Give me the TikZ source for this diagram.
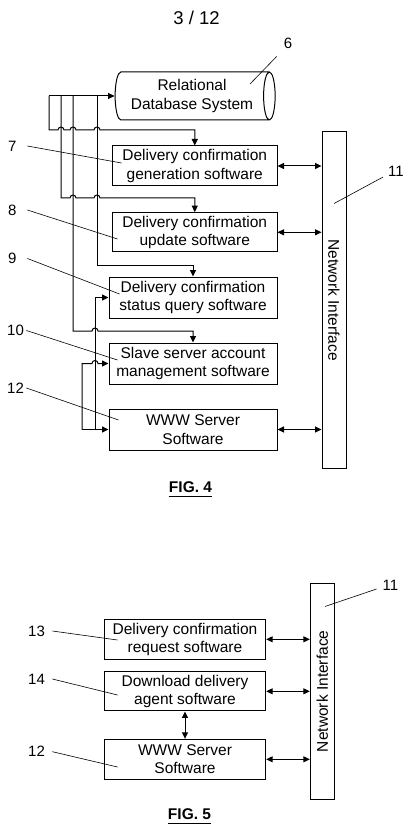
\documentclass[tikz,border=0pt]{standalone}
\usepackage{fontspec}
\setmainfont{Liberation Sans}
\usepackage{tikz}
\usetikzlibrary{shapes.geometric,arrows.meta,positioning,calc}

\newcommand{\boxfont}{\fontsize{15.5}{18.5}\selectfont}
\newcommand{\numfont}{\fontsize{15}{18}\selectfont}
\newcommand{\hopover}{arc[start angle=180,end angle=0,radius=3pt]}

\tikzset{
  swbox/.style={draw, line width=1pt, rectangle, inner sep=0pt, align=center, font=\boxfont},
  netif/.style={draw, line width=1pt, rectangle, inner sep=0pt, minimum width=24pt},
  num/.style={font=\numfont, inner sep=0pt},
  lnum/.style={num, anchor=west, text width=#1},
  lnum/.default=19pt,
  lead/.style={line width=0.6pt},
  bus/.style={line width=1pt},
  arr/.style={bus, -{Triangle[length=6.5pt,width=6pt]}},
  darr/.style={bus, {Triangle[length=6.5pt,width=6pt]}-{Triangle[length=6.5pt,width=6pt]}},
}

\begin{document}
\begin{tikzpicture}[x=1pt, y=-1pt]
    \useasboundingbox (0,0) rectangle (411,826);

    \node[font=\fontsize{18.5}{22}\selectfont] (pg) at (196.5,18) {3 / 12};

    % FIG. 4
    \node[cylinder, draw, line width=1pt, aspect=0.35, inner sep=0pt,
          minimum width=48pt, minimum height=160pt, align=center, font=\boxfont]
          (db) at (192,96) {Relational\\Database System};

    \node[swbox, minimum width=164.5pt, minimum height=40pt] (gen) at (194.75,166) {Delivery confirmation\\generation software};
    \node[swbox, minimum width=164.5pt, minimum height=39.3pt] (upd) at (194.75,232.3) {Delivery confirmation\\update software};
    \node[swbox, minimum width=168pt, minimum height=41pt] (qry) at (193,297.5) {Delivery confirmation\\status query software};
    \node[swbox, minimum width=168pt, minimum height=41pt] (acct) at (193,363.5) {Slave server account\\management software};
    \node[swbox, minimum width=168pt, minimum height=41pt] (www) at (193,429.5) {WWW Server\\Software};

    \node[netif, minimum height=336pt] (ni4) at (334,300) {};
    \node[font=\boxfont, rotate=-90] (ni4t) at (ni4) {Network Interface};

    \coordinate (t1) at (49,96);
    \coordinate (t2) at (61,96);
    \coordinate (t3) at (73,96);
    \coordinate (t4) at (97,96);
    \coordinate (w1) at (82,429.5);
    \coordinate (w2) at (95,429.5);

    \draw[arr] (t1) -- (db.west);
    \draw[arr] (t1) -- (49,130) -- (58,130) \hopover -- (70,130) \hopover -- (94,130) \hopover -| (gen.north);
    \draw[arr] (t2) -- (61,198) -- (70,198) \hopover -- (94,198) \hopover -| (upd.north);
    \draw[arr] (t4) -- (97,265) -| (qry.north);
    \draw[arr] (t3) -- (73,331) -- (92,331) \hopover -| (acct.north);

    \draw[arr] (w1) -- (www.west);
    \draw[arr] (w2) |- (qry.west);
    \draw[arr] (w1) -- (82,363.5) -- (92,363.5) \hopover -- (acct.west);

    \draw[darr] (gen.east) -- (gen.east -| ni4.west);
    \draw[darr] (upd.east) -- (upd.east -| ni4.west);
    \draw[darr] (www.east) -- (www.east -| ni4.west);

    \node[num] (n6) at (288,43.3) {6};
    \node[num] (n11) at (396,171.7) {11};
    \node[lnum] (l7) at (8,146) {7};
    \node[lnum] (l8) at (8,210) {8};
    \node[lnum] (l9) at (8,258.5) {9};
    \node[lnum] (l10) at (7,330.5) {10};
    \node[lnum] (l12) at (7,388) {12};

    \draw[lead] ([shift={(-7,7.7)}]n6.south west) -- ([shift={(58,-12)}]db.center);
    \draw[lead] ([shift={(-5,0)}]n11.south west) -- ([shift={(0,72)}]ni4.north);
    \draw[lead] (l7.east) -- ([shift={(9.5,-3)}]gen.west);
    \draw[lead] (l8.east) -- ([shift={(5.5,6.7)}]upd.west);
    \draw[lead] (l9.east) -- ([shift={(11,-3.5)}]qry.west);
    \draw[lead] (l10.east) -- ([shift={(9,-3.5)}]acct.west);
    \draw[lead] (l12.east) -- ([shift={(10,-9.5)}]www.west);

    \node[font=\fontsize{15.5}{18}\selectfont\bfseries, inner sep=0pt] (f4) at (190.5,487) {FIG. 4};
    \draw[line width=1.6pt] ([yshift=-4pt]f4.south west) -- ([yshift=-4pt]f4.south east);

    % FIG. 5
    \node[swbox, minimum width=161.4pt, minimum height=40pt] (req) at (185,639.3) {Delivery confirmation\\request software};
    \node[swbox, minimum width=161.4pt, minimum height=39.3pt] (agent) at (185,691.3) {Download delivery\\agent software};
    \node[swbox, minimum width=161.4pt, minimum height=40pt] (www5) at (185,759.3) {WWW Server\\Software};

    \node[netif, minimum height=216pt] (ni5) at (322.3,691.3) {};
    \node[font=\boxfont, rotate=90] (ni5t) at (ni5) {Network Interface};

    \draw[darr] (req.east) -- (req.east -| ni5.west);
    \draw[darr] (agent.east) -- (agent.east -| ni5.west);
    \draw[darr] (www5.east) -- (www5.east -| ni5.west);
    \draw[darr] (agent.south) -- (www5.north);

    \node[num] (n11b) at (390.3,585.3) {11};
    \node[lnum=24pt] (l13) at (28,631) {13};
    \node[lnum=24pt] (l14) at (28,679) {14};
    \node[lnum=24pt] (l12b) at (28,751.7) {12};

    \draw[lead] ([shift={(-5.7,-1.7)}]n11b.south west) -- ([shift={(2.7,23.7)}]ni5.north);
    \draw[lead] (l13.east) -- ([shift={(13.7,0.7)}]req.west);
    \draw[lead] (l14.east) -- ([shift={(13.7,3.7)}]agent.west);
    \draw[lead] (l12b.east) -- ([shift={(13.7,7.7)}]www5.west);

    \node[font=\fontsize{15.5}{18}\selectfont\bfseries, inner sep=0pt] (f5) at (189.5,814.3) {FIG. 5};
    \draw[line width=1.6pt] ([yshift=-3.5pt]f5.south west) -- ([yshift=-3.5pt]f5.south east);
\end{tikzpicture}
\end{document}
